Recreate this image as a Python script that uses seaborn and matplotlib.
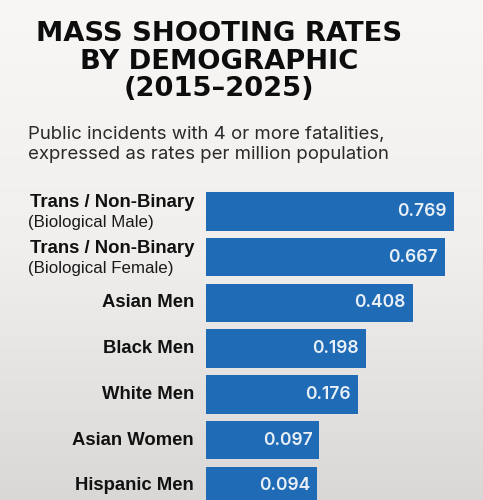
import numpy as np
import pandas as pd
import matplotlib
matplotlib.use("Agg")
import matplotlib.pyplot as plt
import seaborn as sns
from matplotlib.colors import LinearSegmentedColormap

# ---- data ----
groups = ["Trans / Non-Binary", "Trans / Non-Binary", "Asian Men", "Black Men",
          "White Men", "Asian Women", "Hispanic Men"]
sublabels = ["(Biological Male)", "(Biological Female)", "", "", "", "", ""]
rates = [0.769, 0.667, 0.408, 0.198, 0.176, 0.097, 0.094]
value_labels = ["0.769", "0.667", "0.408", "0.198", "0.176", "0.097", "0.094"]

title = "MASS SHOOTING RATES\nBY DEMOGRAPHIC\n(2015\u20132025)"
subtitle = "Public incidents with 4 or more fatalities,\nexpressed as rates per million population"

BAR = "#1f6bb6"

df = pd.DataFrame({
    "category": [g + " " + s for g, s in zip(groups, sublabels)],
    "rate": rates,
})

sns.set_theme(style="white")
plt.rcParams["font.family"] = ["Liberation Sans", "DejaVu Sans"]
WIDE = ["Inter", "Liberation Sans", "DejaVu Sans"]

fig = plt.figure(figsize=(4.83, 5.0), dpi=100)

# background gradient
bg = fig.add_axes([0, 0, 1, 1], zorder=-5)
cmap = LinearSegmentedColormap.from_list("bg", ["#f9f7f5", "#f1efed", "#dad8d6"])
grad = np.linspace(0, 1, 256).reshape(-1, 1)
bg.imshow(grad, aspect="auto", cmap=cmap, extent=[0, 1, 0, 1], origin="upper")
bg.set_axis_off()

W, H = 483, 500
ax = fig.add_axes([206 / W, 0, (W - 206) / W, 315 / H])
ax.set_facecolor("none")

sns.barplot(data=df, x="rate", y="category", orient="h", color=BAR,
            saturation=1, width=0.84, linewidth=0, ax=ax)
ax.set_xscale("log")
ax.set_xlim(0.01695, 1.20)
ax.set_ylim(6.31, -0.58)

for sp in ax.spines.values():
    sp.set_visible(False)
ax.set_xticks([])
ax.set_xticks([], minor=True)
ax.set_yticks([])
ax.set_xlabel("")
ax.set_ylabel("")

for i, (g, s) in enumerate(zip(groups, sublabels)):
    if s:
        ax.annotate(g, xy=(0, i), xycoords=("axes fraction", "data"),
                    xytext=(-12, 9), textcoords="offset pixels",
                    ha="right", va="center", fontsize=13.3,
                    fontweight="bold", color="#111111")
        ax.annotate(s, xy=(-178 / (W - 206), i), xycoords=("axes fraction", "data"),
                    xytext=(0, -11), textcoords="offset pixels",
                    ha="left", va="center", fontsize=12.2, color="#1a1a1a")
    else:
        ax.annotate(g, xy=(0, i), xycoords=("axes fraction", "data"),
                    xytext=(-12, 0), textcoords="offset pixels",
                    ha="right", va="center", fontsize=13.3,
                    fontweight="bold", color="#111111")

for i, (v, lab) in enumerate(zip(rates, value_labels)):
    ax.annotate(lab, xy=(v, i), xycoords="data",
                xytext=(-7, 0), textcoords="offset pixels",
                ha="right", va="center", fontsize=12.6,
                fontweight="semibold", color="#eaf0f7", family=WIDE)

fig.text(219 / W, 1 - 21 / H, title, ha="center", va="top",
         fontsize=19.7, fontweight="bold", color="#0d0d0d", linespacing=1.08,
         family=["DejaVu Sans"])
fig.text(28 / W, 1 - 126 / H, subtitle, ha="left", va="top",
         fontsize=13.4, color="#2a2a2a", linespacing=1.22, family=WIDE)

fig.savefig("out.png", dpi=100)
